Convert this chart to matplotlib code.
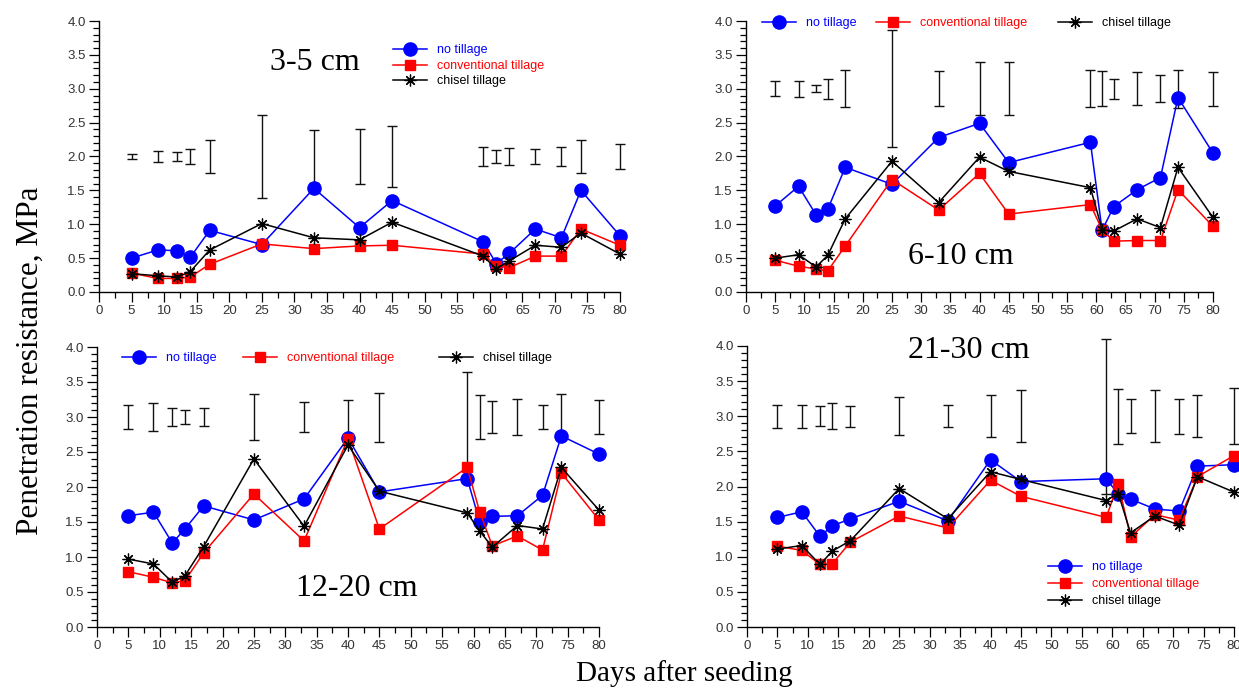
import numpy as np
import matplotlib
matplotlib.use('Agg')
from matplotlib import pyplot as plt
from matplotlib.lines import Line2D
from matplotlib.ticker import MultipleLocator, FormatStrFormatter

#   Giorni dopo la semina
days = [5, 9, 12, 14, 17, 25, 33, 40, 45, 59, 61, 63, 67, 71, 74, 80]

#   3-5 cm
nt_3_5 = [0.50, 0.62, 0.61, 0.51, 0.91, 0.70, 1.53, 0.95, 1.35, 0.74, 0.42, 0.57, 0.93, 0.80, 1.50, 0.83]
ct_3_5 = [0.28, 0.20, 0.20, 0.22, 0.41, 0.71, 0.64, 0.68, 0.69, 0.56, 0.38, 0.36, 0.53, 0.53, 0.93, 0.69]
ch_3_5 = [0.27, 0.24, 0.22, 0.30, 0.62, 1.01, 0.80, 0.77, 1.03, 0.53, 0.34, 0.46, 0.69, 0.66, 0.87, 0.56]
lsd_3_5 = [0.04, 0.08, 0.065, 0.11, 0.24, 0.61, 0.385, 0.41, 0.45, 0.14, 0.095, 0.13, 0.11, 0.14, 0.245, 0.18]

#   6-10 cm
nt_6_10 = [1.27, 1.56, 1.14, 1.22, 1.84, 1.59, 2.28, 2.49, 1.91, 2.21, 0.91, 1.26, 1.51, 1.69, 2.87, 2.05]
ct_6_10 = [0.47, 0.38, 0.34, 0.31, 0.68, 1.66, 1.21, 1.75, 1.15, 1.29, 0.92, 0.75, 0.76, 0.76, 1.51, 0.97]
ch_6_10 = [0.50, 0.55, 0.37, 0.54, 1.08, 1.93, 1.32, 1.99, 1.78, 1.54, 0.92, 0.90, 1.08, 0.95, 1.84, 1.10]
lsd_6_10 = [0.11, 0.12, 0.055, 0.15, 0.27, 0.86, 0.26, 0.39, 0.39, 0.275, 0.26, 0.15, 0.24, 0.20, 0.28, 0.25]

#   12-20 cm
nt_12_20 = [1.59, 1.64, 1.20, 1.40, 1.73, 1.53, 1.83, 2.70, 1.93, 2.12, 1.50, 1.58, 1.59, 1.88, 2.73, 2.47]
ct_12_20 = [0.79, 0.71, 0.63, 0.66, 1.06, 1.90, 1.23, 2.69, 1.40, 2.28, 1.64, 1.16, 1.30, 1.10, 2.20, 1.53]
ch_12_20 = [0.97, 0.90, 0.64, 0.73, 1.15, 2.40, 1.44, 2.60, 1.94, 1.63, 1.37, 1.14, 1.45, 1.40, 2.28, 1.67]
lsd_12_20 = [0.175, 0.20, 0.135, 0.10, 0.135, 0.33, 0.22, 0.24, 0.35, 0.65, 0.32, 0.23, 0.26, 0.165, 0.335, 0.24]

#   21-30 cm
nt_21_30 = [1.56, 1.64, 1.29, 1.44, 1.54, 1.79, 1.51, 2.38, 2.07, 2.11, 1.89, 1.82, 1.68, 1.65, 2.29, 2.31]
ct_21_30 = [1.15, 1.09, 0.89, 0.90, 1.21, 1.58, 1.41, 2.09, 1.86, 1.56, 2.04, 1.28, 1.60, 1.52, 2.14, 2.44]
ch_21_30 = [1.11, 1.16, 0.89, 1.08, 1.23, 1.97, 1.54, 2.21, 2.10, 1.80, 1.90, 1.34, 1.58, 1.45, 2.14, 1.92]
lsd_21_30 = [0.165, 0.165, 0.14, 0.185, 0.15, 0.27, 0.16, 0.30, 0.37, 1.10, 0.39, 0.24, 0.37, 0.25, 0.30, 0.40]

labels = ['no tillage', 'conventional tillage', 'chisel tillage']
colors = ['#0000ff', '#ff0000', '#000000']

SANS = ['Liberation Sans', 'DejaVu Sans']
SERIF = ['Liberation Serif', 'DejaVu Serif']
plt.rcParams['font.family'] = SANS
W, H = 1239, 689

fig = plt.figure(figsize=(W / 100, H / 100), dpi=100)

STAR = (8, 2, 0)
styles = [dict(marker='o', markersize=9.5, color=colors[0]),
          dict(marker='s', markersize=7, color=colors[1]),
          dict(marker=STAR, markersize=8.5, color=colors[2], markeredgewidth=0.9)]


def make_axes(x0, x1, ytop, ybot):
    ax = fig.add_axes([x0 / W, 1 - ybot / H, (x1 - x0) / W, (ybot - ytop) / H])
    ax.set_xlim(0, 80)
    ax.set_ylim(0, 4)
    ax.spines['top'].set_visible(False)
    ax.spines['right'].set_visible(False)
    ax.spines['left'].set_linewidth(1.0)
    ax.spines['bottom'].set_linewidth(1.0)
    ax.xaxis.set_major_locator(MultipleLocator(5))
    ax.xaxis.set_minor_locator(MultipleLocator(2.5))
    ax.yaxis.set_major_locator(MultipleLocator(0.5))
    ax.yaxis.set_minor_locator(MultipleLocator(0.1))
    ax.yaxis.set_major_formatter(FormatStrFormatter('%.1f'))
    ax.tick_params(which='major', length=7, width=0.9, pad=2.5,
                   labelsize=9.5, labelcolor='#333333')
    ax.tick_params(which='minor', length=4, width=0.9)
    return ax


def draw_panel(ax, nt, ct, ch, lsd, center):
    lsd = np.array(lsd)
    ax.errorbar(days, np.full(len(days), center), yerr=lsd, fmt='none',
                ecolor='#111111', elinewidth=1.0, capsize=3.5, capthick=1.0,
                clip_on=False, zorder=2)
    for vals, st in zip([nt, ct, ch], styles):
        ax.plot(days, vals, linewidth=1.1, clip_on=False, zorder=3, **st)


def legend_entry(x, y, i):
    h = Line2D([], [], linewidth=1.1, **styles[i])
    leg = fig.legend([h], [labels[i]], loc='center left',
                     bbox_to_anchor=(x / W, 1 - y / H), bbox_transform=fig.transFigure,
                     frameon=False, borderpad=0, borderaxespad=0,
                     handlelength=2.7, handletextpad=0.85,
                     prop={'family': SANS, 'size': 9})
    leg.get_texts()[0].set_color(colors[i])


ax1 = make_axes(99, 620, 21, 292)
ax2 = make_axes(746, 1213, 21, 292)
ax3 = make_axes(97, 599, 347, 627)
ax4 = make_axes(747, 1234, 346, 627)

draw_panel(ax1, nt_3_5, ct_3_5, ch_3_5, lsd_3_5, 2.0)
draw_panel(ax2, nt_6_10, ct_6_10, ch_6_10, lsd_6_10, 3.0)
draw_panel(ax3, nt_12_20, ct_12_20, ch_12_20, lsd_12_20, 3.0)
draw_panel(ax4, nt_21_30, ct_21_30, ch_21_30, lsd_21_30, 3.0)

#   Titoli delle profondita
for txt, x, y in [('3-5 cm', 315, 62), ('6-10 cm', 961, 256),
                  ('12-20 cm', 357, 588), ('21-30 cm', 969, 350)]:
    fig.text(x / W, 1 - y / H, txt, ha='center', va='center',
             family=SERIF, fontsize=23)

#   Legende
for i, y in enumerate([50, 66, 81]):
    legend_entry(393, y, i)
for i, x in enumerate([762, 876, 1058]):
    legend_entry(x, 23, i)
for i, x in enumerate([122, 243, 439]):
    legend_entry(x, 358, i)
for i, y in enumerate([567, 584, 601]):
    legend_entry(1048, y, i)

fig.text(30 / W, 1 - 361 / H, 'Penetration resistance, MPa', rotation=90,
         ha='center', va='center', family=SERIF, fontsize=22.5)
fig.text(684 / W, 1 - 674 / H, 'Days after seeding', ha='center', va='center',
         family=SERIF, fontsize=21)

fig.savefig('out.png', dpi=100)
